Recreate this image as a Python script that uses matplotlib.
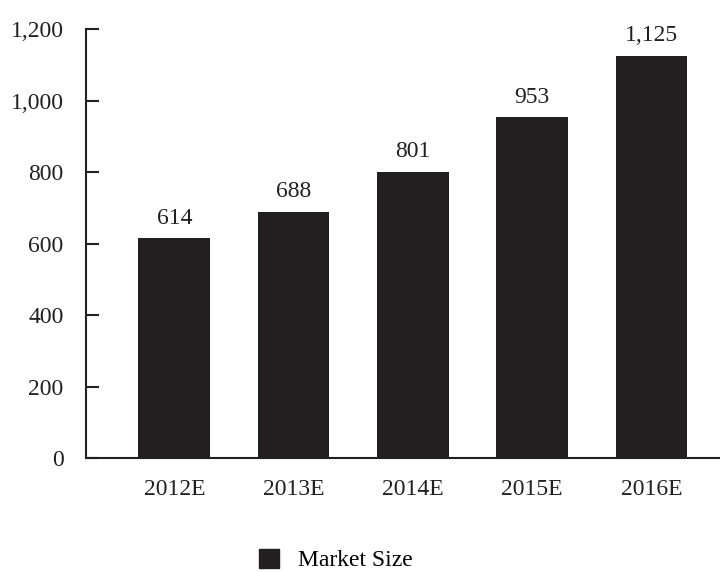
import matplotlib
matplotlib.use("Agg")
import matplotlib.pyplot as plt
from matplotlib.patches import Patch

years = ["2012E", "2013E", "2014E", "2015E", "2016E"]
market_size = [614, 688, 801, 953, 1125]
y_ticks = [0, 200, 400, 600, 800, 1000, 1200]

plt.rcParams["font.family"] = ["Liberation Serif", "DejaVu Serif"]
dark = "#231f20"
fs = 17

fig = plt.figure(figsize=(7.2, 5.72), dpi=100)
ax = fig.add_axes([0.1194, 0.1993, 0.885, 0.75])

x = list(range(len(years)))
ax.bar(x, market_size, width=0.6, color=dark, label="Market Size")
for xi, v in zip(x, market_size):
    ax.annotate(f"{v:,}", (xi, v), xytext=(0, 7), textcoords="offset points",
                ha="center", va="bottom", fontsize=fs, color=dark)

ax.set_xlim(-0.74, 4.6)
ax.set_ylim(0, 1200)
ax.set_xticks(x)
ax.set_xticklabels(years)
ax.set_yticks(y_ticks)
ax.set_yticklabels([f"{t:,}" for t in y_ticks])
ax.tick_params(axis="x", length=0, pad=15, labelsize=fs, colors=dark)
ax.tick_params(axis="y", direction="in", length=9, width=1.5, pad=16,
               labelsize=fs, colors=dark)
for s in ["top", "right"]:
    ax.spines[s].set_visible(False)
for s in ["left", "bottom"]:
    ax.spines[s].set_color(dark)
    ax.spines[s].set_linewidth(1.5)

fig.legend(handles=[Patch(color=dark, label="Market Size")], loc="center",
           bbox_to_anchor=(0.467, 0.021), frameon=False, fontsize=fs,
           handlelength=0.85, handleheight=0.85, handletextpad=0.8)

fig.savefig("out.png", dpi=100)
